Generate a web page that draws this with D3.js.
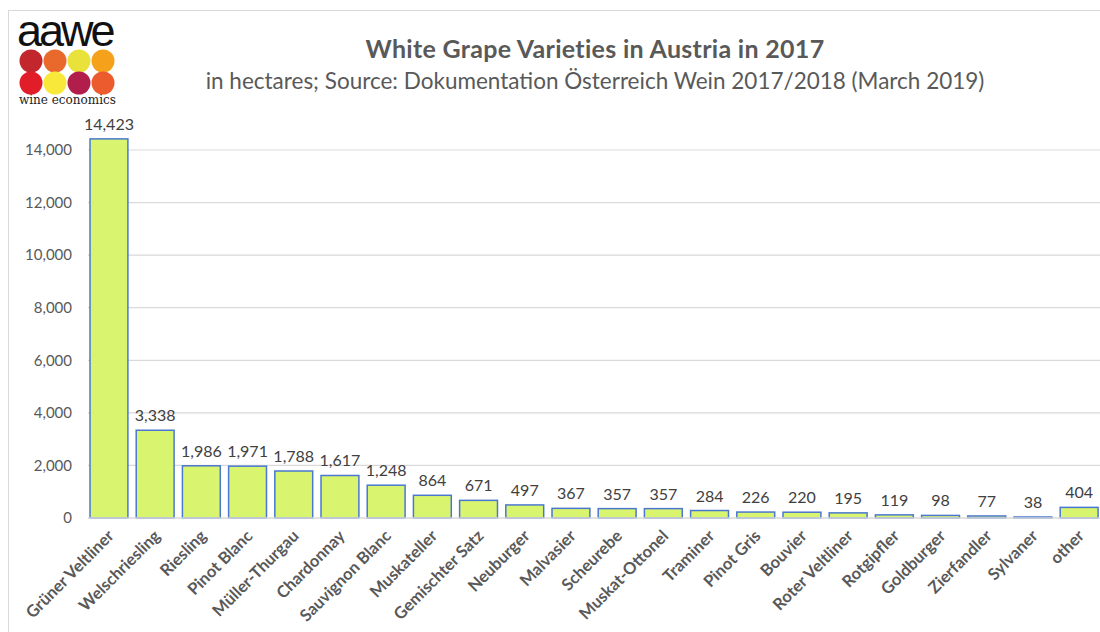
<!DOCTYPE html>
<html>
<head>
<meta charset="utf-8">
<script src="https://cdn.jsdelivr.net/npm/d3@7"></script>
<style>
  body { margin: 0; background: #fff; }
  svg { display: block; font-family: Lato, "Open Sans", sans-serif; }
</style>
</head>
<body>
<div id="chart"></div>
<script>
// grape varieties (categories) and hectares
var varieties = ["Grüner Veltliner", "Welschriesling", "Riesling", "Pinot Blanc", "Müller-Thurgau",
  "Chardonnay", "Sauvignon Blanc", "Muskateller", "Gemischter Satz", "Neuburger", "Malvasier",
  "Scheurebe", "Muskat-Ottonel", "Traminer", "Pinot Gris", "Bouvier", "Roter Veltliner",
  "Rotgipfler", "Goldburger", "Zierfandler", "Sylvaner", "other"];
var hectares = [14423, 3338, 1986, 1971, 1788, 1617, 1248, 864, 671, 497, 367, 357, 357, 284, 226,
  220, 195, 119, 98, 77, 38, 404];
var yTicks = [0, 2000, 4000, 6000, 8000, 10000, 12000, 14000];
var logoColors = ["#c1272d", "#e9692c", "#e8e23b", "#f6a11c", "#e11d2a", "#f8e83a", "#b21e4b", "#eb5b2d"];

var width = 1100, height = 632;
var svg = d3.select("#chart").append("svg")
  .attr("width", width)
  .attr("height", height);

// outer frame (only top/left visible in the photo)
svg.append("rect")
  .attr("x", 8.5).attr("y", 10.5)
  .attr("width", 1200).attr("height", 700)
  .attr("fill", "none").attr("stroke", "#d9d9d9");

// set the ranges
var x = d3.scaleBand().domain(varieties).range([81.7, 1106.4]).padding(0.18);
var y = d3.scaleLinear().domain([0, 14000]).range([518, 150]);

// gridlines
svg.append("g").selectAll("line")
  .data(yTicks.slice(1))
  .enter().append("line")
  .attr("x1", 88).attr("x2", 1100)
  .attr("y1", function(d) { return y(d); })
  .attr("y2", function(d) { return y(d); })
  .attr("stroke", "#d9d9d9").attr("stroke-width", 1.2);

// y tick labels
svg.append("g").selectAll("text")
  .data(yTicks)
  .enter().append("text")
  .attr("x", 72)
  .attr("y", function(d) { return y(d); })
  .attr("dy", "0.35em")
  .attr("text-anchor", "end")
  .attr("fill", "#595959")
  .style("font-size", "15px")
  .text(function(d) { return d3.format(",")(d); });

// bars
svg.append("g").selectAll("rect")
  .data(hectares)
  .enter().append("rect")
  .attr("x", function(d, i) { return x(varieties[i]); })
  .attr("y", function(d) { return y(d); })
  .attr("width", x.bandwidth())
  .attr("height", function(d) { return y(0) - y(d); })
  .attr("fill", "#d9f46e")
  .attr("stroke", "#4a78d0")
  .attr("stroke-width", 1.5);

// baseline
svg.append("line")
  .attr("x1", 88).attr("x2", 1100)
  .attr("y1", y(0)).attr("y2", y(0))
  .attr("stroke", "#d9d9d9").attr("stroke-width", 1.5);

// value labels
svg.append("g").selectAll("text")
  .data(hectares)
  .enter().append("text")
  .attr("x", function(d, i) { return x(varieties[i]) + x.bandwidth() / 2; })
  .attr("y", function(d) { return y(d) - 9; })
  .attr("text-anchor", "middle")
  .attr("fill", "#404040")
  .style("font-size", "16px")
  .text(function(d) { return d3.format(",")(d); });

// category labels, rotated
svg.append("g").selectAll("text")
  .data(varieties)
  .enter().append("text")
  .attr("transform", function(d) {
    return "translate(" + (x(d) + x.bandwidth() / 2 + 6) + ",537) rotate(-45)";
  })
  .attr("text-anchor", "end")
  .attr("fill", "#595959")
  .style("font-size", "16.5px")
  .style("font-weight", "700")
  .text(function(d) { return d; });

// title
svg.append("text")
  .attr("x", 595).attr("y", 58)
  .attr("text-anchor", "middle")
  .attr("fill", "#595959")
  .style("font-size", "25px")
  .style("font-weight", "700")
  .style("letter-spacing", "0.3px")
  .text("White Grape Varieties in Austria in 2017");

svg.append("text")
  .attr("x", 595).attr("y", 89)
  .attr("text-anchor", "middle")
  .attr("fill", "#595959")
  .style("font-size", "22.5px")
  .text("in hectares; Source: Dokumentation Österreich Wein 2017/2018 (March 2019)");

// aawe logo
var logo = svg.append("g");
logo.append("text")
  .attr("x", 17).attr("y", 46)
  .attr("fill", "#111")
  .style("font-family", "'Liberation Sans', sans-serif")
  .style("font-size", "45px")
  .style("letter-spacing", "-3px")
  .text("aawe");
logo.selectAll("circle")
  .data(logoColors)
  .enter().append("circle")
  .attr("cx", function(d, i) { return 31 + (i % 4) * 24; })
  .attr("cy", function(d, i) { return i < 4 ? 61 : 83; })
  .attr("r", 11.5)
  .attr("fill", function(d) { return d; });
logo.append("text")
  .attr("x", 19).attr("y", 104)
  .attr("fill", "#222")
  .style("font-family", "'DejaVu Serif', serif")
  .style("font-size", "12px")
  .text("wine economics");
</script>
</body>
</html>
